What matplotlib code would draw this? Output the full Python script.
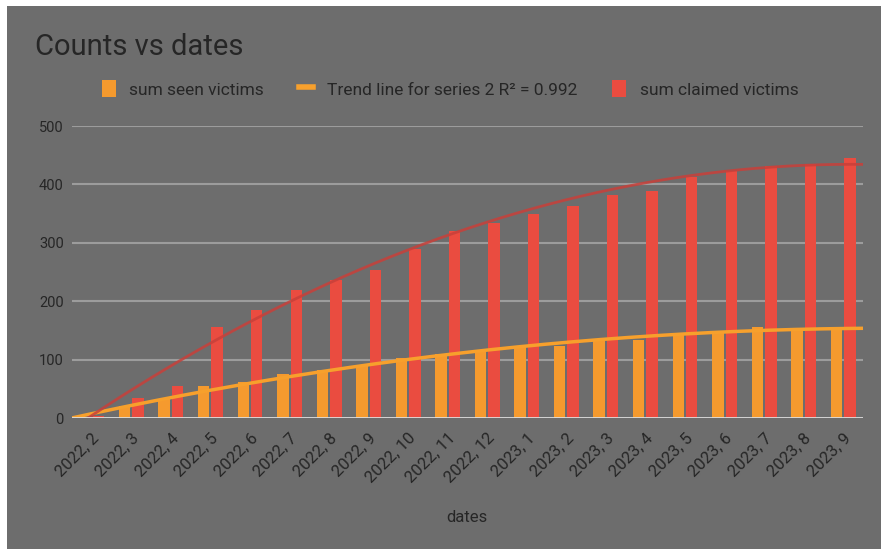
import numpy as np
import matplotlib
matplotlib.use("Agg")
import matplotlib.pyplot as plt
from matplotlib.patches import Rectangle
from matplotlib.lines import Line2D

plt.rcParams['font.family'] = ['Roboto', 'DejaVu Sans']

# --- Data ---
dates = ["2022, 2", "2022, 3", "2022, 4", "2022, 5", "2022, 6", "2022, 7", "2022, 8",
         "2022, 9", "2022, 10", "2022, 11", "2022, 12", "2023, 1", "2023, 2", "2023, 3",
         "2023, 4", "2023, 5", "2023, 6", "2023, 7", "2023, 8", "2023, 9"]
seen = [2, 20, 32, 55, 62, 76, 83, 90, 102, 109, 117, 123, 124, 131, 133, 145, 148, 155, 153, 154]
claimed = [4, 34, 55, 155, 185, 219, 236, 253, 290, 320, 334, 350, 363, 382, 388, 412, 423, 431, 435, 445]
y_ticks = [0, 100, 200, 300, 400, 500]

BG = "#6d6d6d"
ORANGE = "#f59a2e"
RED = "#ea4c40"
TEXT = "#262626"

fig = plt.figure(figsize=(8.81, 5.49), dpi=100, facecolor="white")
bg = fig.add_axes([7 / 881, 0, 1 - 7 / 881, 1 - 6 / 549], zorder=-1)
bg.set_facecolor(BG)
bg.set_xticks([])
bg.set_yticks([])
for s in bg.spines.values():
    s.set_visible(False)

ax = fig.add_axes([72 / 881, 1 - 418 / 549, 791 / 881, 292 / 549], zorder=1)
ax.set_facecolor(BG)

x = np.arange(len(dates))
w = 0.29
ax.bar(x - 0.17, seen, width=w, color=ORANGE, zorder=3)
ax.bar(x + 0.17, claimed, width=w, color=RED, zorder=3)

# Trend lines (polynomial fits, like the sheet's trend lines)
xs = np.linspace(-0.5, len(dates) - 0.5, 200)
p_seen = np.polyfit(x, seen, 2)
p_claim = np.polyfit(x, claimed, 2)
ax.plot(xs, np.polyval(p_seen, xs), color="#f7a02c", lw=2.5, zorder=4)
ax.plot(xs, np.polyval(p_claim, xs), color="#c8403a", lw=2, alpha=0.85, zorder=4)

ax.set_xlim(-0.5, len(dates) - 0.5)
ax.set_ylim(0, 500)
ax.set_yticks(y_ticks)
ax.set_yticklabels([str(t) for t in y_ticks], fontsize=10.5, color=TEXT)
ax.set_xticks(x)
ax.set_xticklabels(dates, rotation=45, ha="right", rotation_mode="anchor",
                   fontsize=12, color=TEXT)
ax.tick_params(length=0, pad=6)
ax.tick_params(axis="x", pad=9)
for t in y_ticks[1:]:
    ax.axhline(t, color="#9c9c9c", lw=1.5, zorder=1)
ax.axhline(0, color="#dedede", lw=2, zorder=5)
for s in ax.spines.values():
    s.set_visible(False)

fig.text(467 / 881, 1 - 517 / 549, "dates", fontsize=12, color=TEXT,
         ha="center", va="center")

fig.text(35 / 881, 1 - 47 / 549, "Counts vs dates", fontsize=21, color=TEXT,
         va="center", ha="left")

handles = [
    Rectangle((0, 0), 1, 1, facecolor=ORANGE, edgecolor="none"),
    Line2D([0], [0], color="#f7a02c", lw=4),
    Rectangle((0, 0), 1, 1, facecolor=RED, edgecolor="none"),
]
labels = ["sum seen victims", "Trend line for series 2 R\u00b2 = 0.992", "sum claimed victims"]
fig.legend(handles, labels, loc="center", bbox_to_anchor=(450 / 881, 1 - 89 / 549),
           ncol=3, frameon=False, fontsize=12.5, labelcolor=TEXT,
           handlelength=0.8, handleheight=1.1, handletextpad=0.8, columnspacing=2.0)

fig.savefig("out.png", dpi=100, facecolor=fig.get_facecolor())
